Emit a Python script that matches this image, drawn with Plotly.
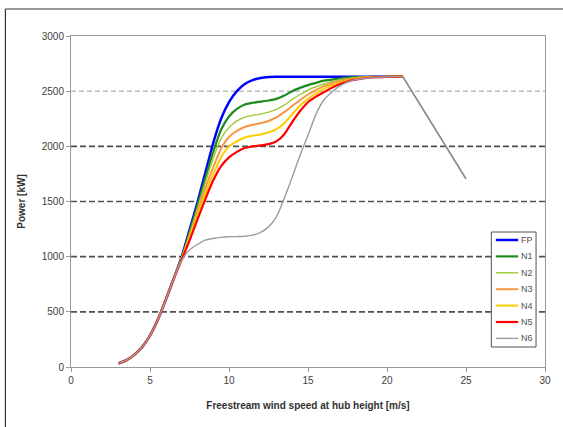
import plotly.graph_objects as go

# wind speed [m/s]
ws_common = [3, 3.5, 4, 4.5, 5, 5.5, 6, 6.5]
p_common = [33, 62, 110, 180, 285, 430, 610, 800]

ws_mid = [7, 7.5, 8, 8.5, 9, 9.5, 10, 10.5, 11, 11.5, 12, 12.5, 13, 13.5, 14, 14.5,
          15, 15.5, 16, 16.5, 17, 17.5, 18, 19, 20, 21]

p_FP = [995, 1240, 1490, 1760, 2030, 2250, 2400, 2500, 2565, 2600, 2620, 2628, 2630, 2631, 2631, 2631,
        2631, 2631, 2631, 2631, 2631, 2631, 2631, 2631, 2632, 2632]
p_N1 = [990, 1220, 1460, 1710, 1950, 2150, 2270, 2340, 2380, 2395, 2405, 2415, 2430, 2460, 2500, 2530,
        2555, 2575, 2595, 2605, 2615, 2622, 2627, 2630, 2631, 2632]
p_N2 = [985, 1200, 1435, 1670, 1890, 2070, 2170, 2230, 2265, 2280, 2292, 2310, 2335, 2375, 2425, 2470,
        2510, 2540, 2565, 2585, 2602, 2612, 2622, 2629, 2631, 2632]
p_N3 = [980, 1185, 1405, 1620, 1810, 1980, 2085, 2140, 2175, 2195, 2210, 2230, 2262, 2310, 2365, 2420,
        2470, 2510, 2545, 2570, 2592, 2606, 2618, 2628, 2631, 2632]
p_N4 = [975, 1170, 1375, 1570, 1745, 1900, 2000, 2045, 2080, 2095, 2108, 2125, 2155, 2210, 2290, 2370,
        2430, 2480, 2520, 2550, 2575, 2595, 2612, 2627, 2631, 2632]
p_N5 = [970, 1145, 1335, 1520, 1690, 1820, 1900, 1950, 1985, 2000, 2008, 2020, 2045, 2110, 2220, 2320,
        2400, 2450, 2490, 2530, 2562, 2588, 2605, 2624, 2630, 2632]
p_N6 = [965, 1060, 1110, 1150, 1165, 1175, 1180, 1182, 1185, 1195, 1220, 1270, 1360, 1530, 1720, 1920,
        2100, 2290, 2420, 2490, 2545, 2582, 2605, 2622, 2630, 2632]

ws_tail = [21, 25]
p_tail = [2632, 1705]

names = ["FP", "N1", "N2", "N3", "N4", "N5", "N6"]
series = [p_FP, p_N1, p_N2, p_N3, p_N4, p_N5, p_N6]
colors = ["#0000ff", "#1e8a1e", "#9acd32", "#f79646", "#ffcc00", "#ff0000", "#9a9ca8"]
widths = [2.5, 2.2, 1.4, 2.0, 2.0, 2.2, 1.4]

y_ticks = [0, 500, 1000, 1500, 2000, 2500, 3000]
x_ticks = [0, 5, 10, 15, 20, 25, 30]
grid_dark = [500, 1000, 1500, 2000]
grid_light = [2500]

# plot-area geometry (pixels) for placing the legend / frame
L, R, T, B, W, H = 71, 548, 36, 367, 563, 427
PW, PH = R - L, B - T


def px(x):
    return (x - L) / PW


def py(y):
    return (B - y) / PH


fig = go.Figure()
for n, p, c, w in zip(names, series, colors, widths):
    fig.add_trace(go.Scatter(x=ws_common + ws_mid, y=p_common + p, mode="lines", name=n,
                             line=dict(color=c, width=w, shape="spline", smoothing=0.6),
                             showlegend=False))

# cut-out decline (shared by all curves, drawn in gray)
fig.add_trace(go.Scatter(x=ws_tail, y=p_tail, mode="lines",
                         line=dict(color="#8a8a8a", width=1.8), showlegend=False))

shapes = []
for v in grid_dark:
    shapes.append(dict(type="line", xref="paper", yref="y", x0=0, x1=1, y0=v, y1=v,
                       line=dict(color="#505050", width=1.6, dash="6px,3px"), layer="below"))
for v in grid_light:
    shapes.append(dict(type="line", xref="paper", yref="y", x0=0, x1=1, y0=v, y1=v,
                       line=dict(color="#a0a0a0", width=1, dash="5px,3px"), layer="below"))
# outer frame (left and top edges)
shapes.append(dict(type="line", xref="paper", yref="paper", x0=px(5), x1=px(5),
                   y0=py(9), y1=py(H + 20), line=dict(color="#333333", width=1.2)))
shapes.append(dict(type="line", xref="paper", yref="paper", x0=px(5), x1=px(W + 20),
                   y0=py(9), y1=py(9), line=dict(color="#333333", width=1.2)))

# legend box
annotations = []
lx0, lx1, ly0, ly1 = 494, 539, 232, 347
shapes.append(dict(type="rect", xref="paper", yref="paper", x0=px(lx0), x1=px(lx1),
                   y0=py(ly0), y1=py(ly1), line=dict(color="#505050", width=1),
                   fillcolor="white"))
for i, (n, c, w) in enumerate(zip(names, colors, widths)):
    yc = 240 + i * 16.4
    shapes.append(dict(type="line", xref="paper", yref="paper", x0=px(498.5), x1=px(521),
                       y0=py(yc), y1=py(yc), line=dict(color=c, width=w)))
    annotations.append(dict(xref="paper", yref="paper", x=px(522), y=py(yc), text=n,
                            showarrow=False, xanchor="left", yanchor="middle",
                            font=dict(size=9, color="#505050")))

fig.update_layout(
    width=W, height=H,
    margin=dict(l=L, r=W - R, t=T, b=H - B),
    paper_bgcolor="white", plot_bgcolor="white",
    font=dict(family="Liberation Sans, Arial, sans-serif", size=10, color="#404040"),
    shapes=shapes, annotations=annotations,
    showlegend=False,
    xaxis=dict(range=[0, 30], tickvals=x_ticks, showgrid=False, zeroline=False,
               showline=True, linecolor="#999999", linewidth=1, mirror=True,
               ticks="outside", ticklen=4, tickcolor="#999999",
               title=dict(text="<b>Freestream wind speed at hub height [m/s]</b>",
                          font=dict(size=10, color="#303030"), standoff=16)),
    yaxis=dict(range=[0, 3000], tickvals=y_ticks, showgrid=False, zeroline=False,
               showline=True, linecolor="#999999", linewidth=1, mirror=True,
               ticks="outside", ticklen=4, tickcolor="#999999",
               title=dict(text="<b>Power [kW]</b>", font=dict(size=10, color="#303030"), standoff=14)),
)

fig.write_html("out.html")
